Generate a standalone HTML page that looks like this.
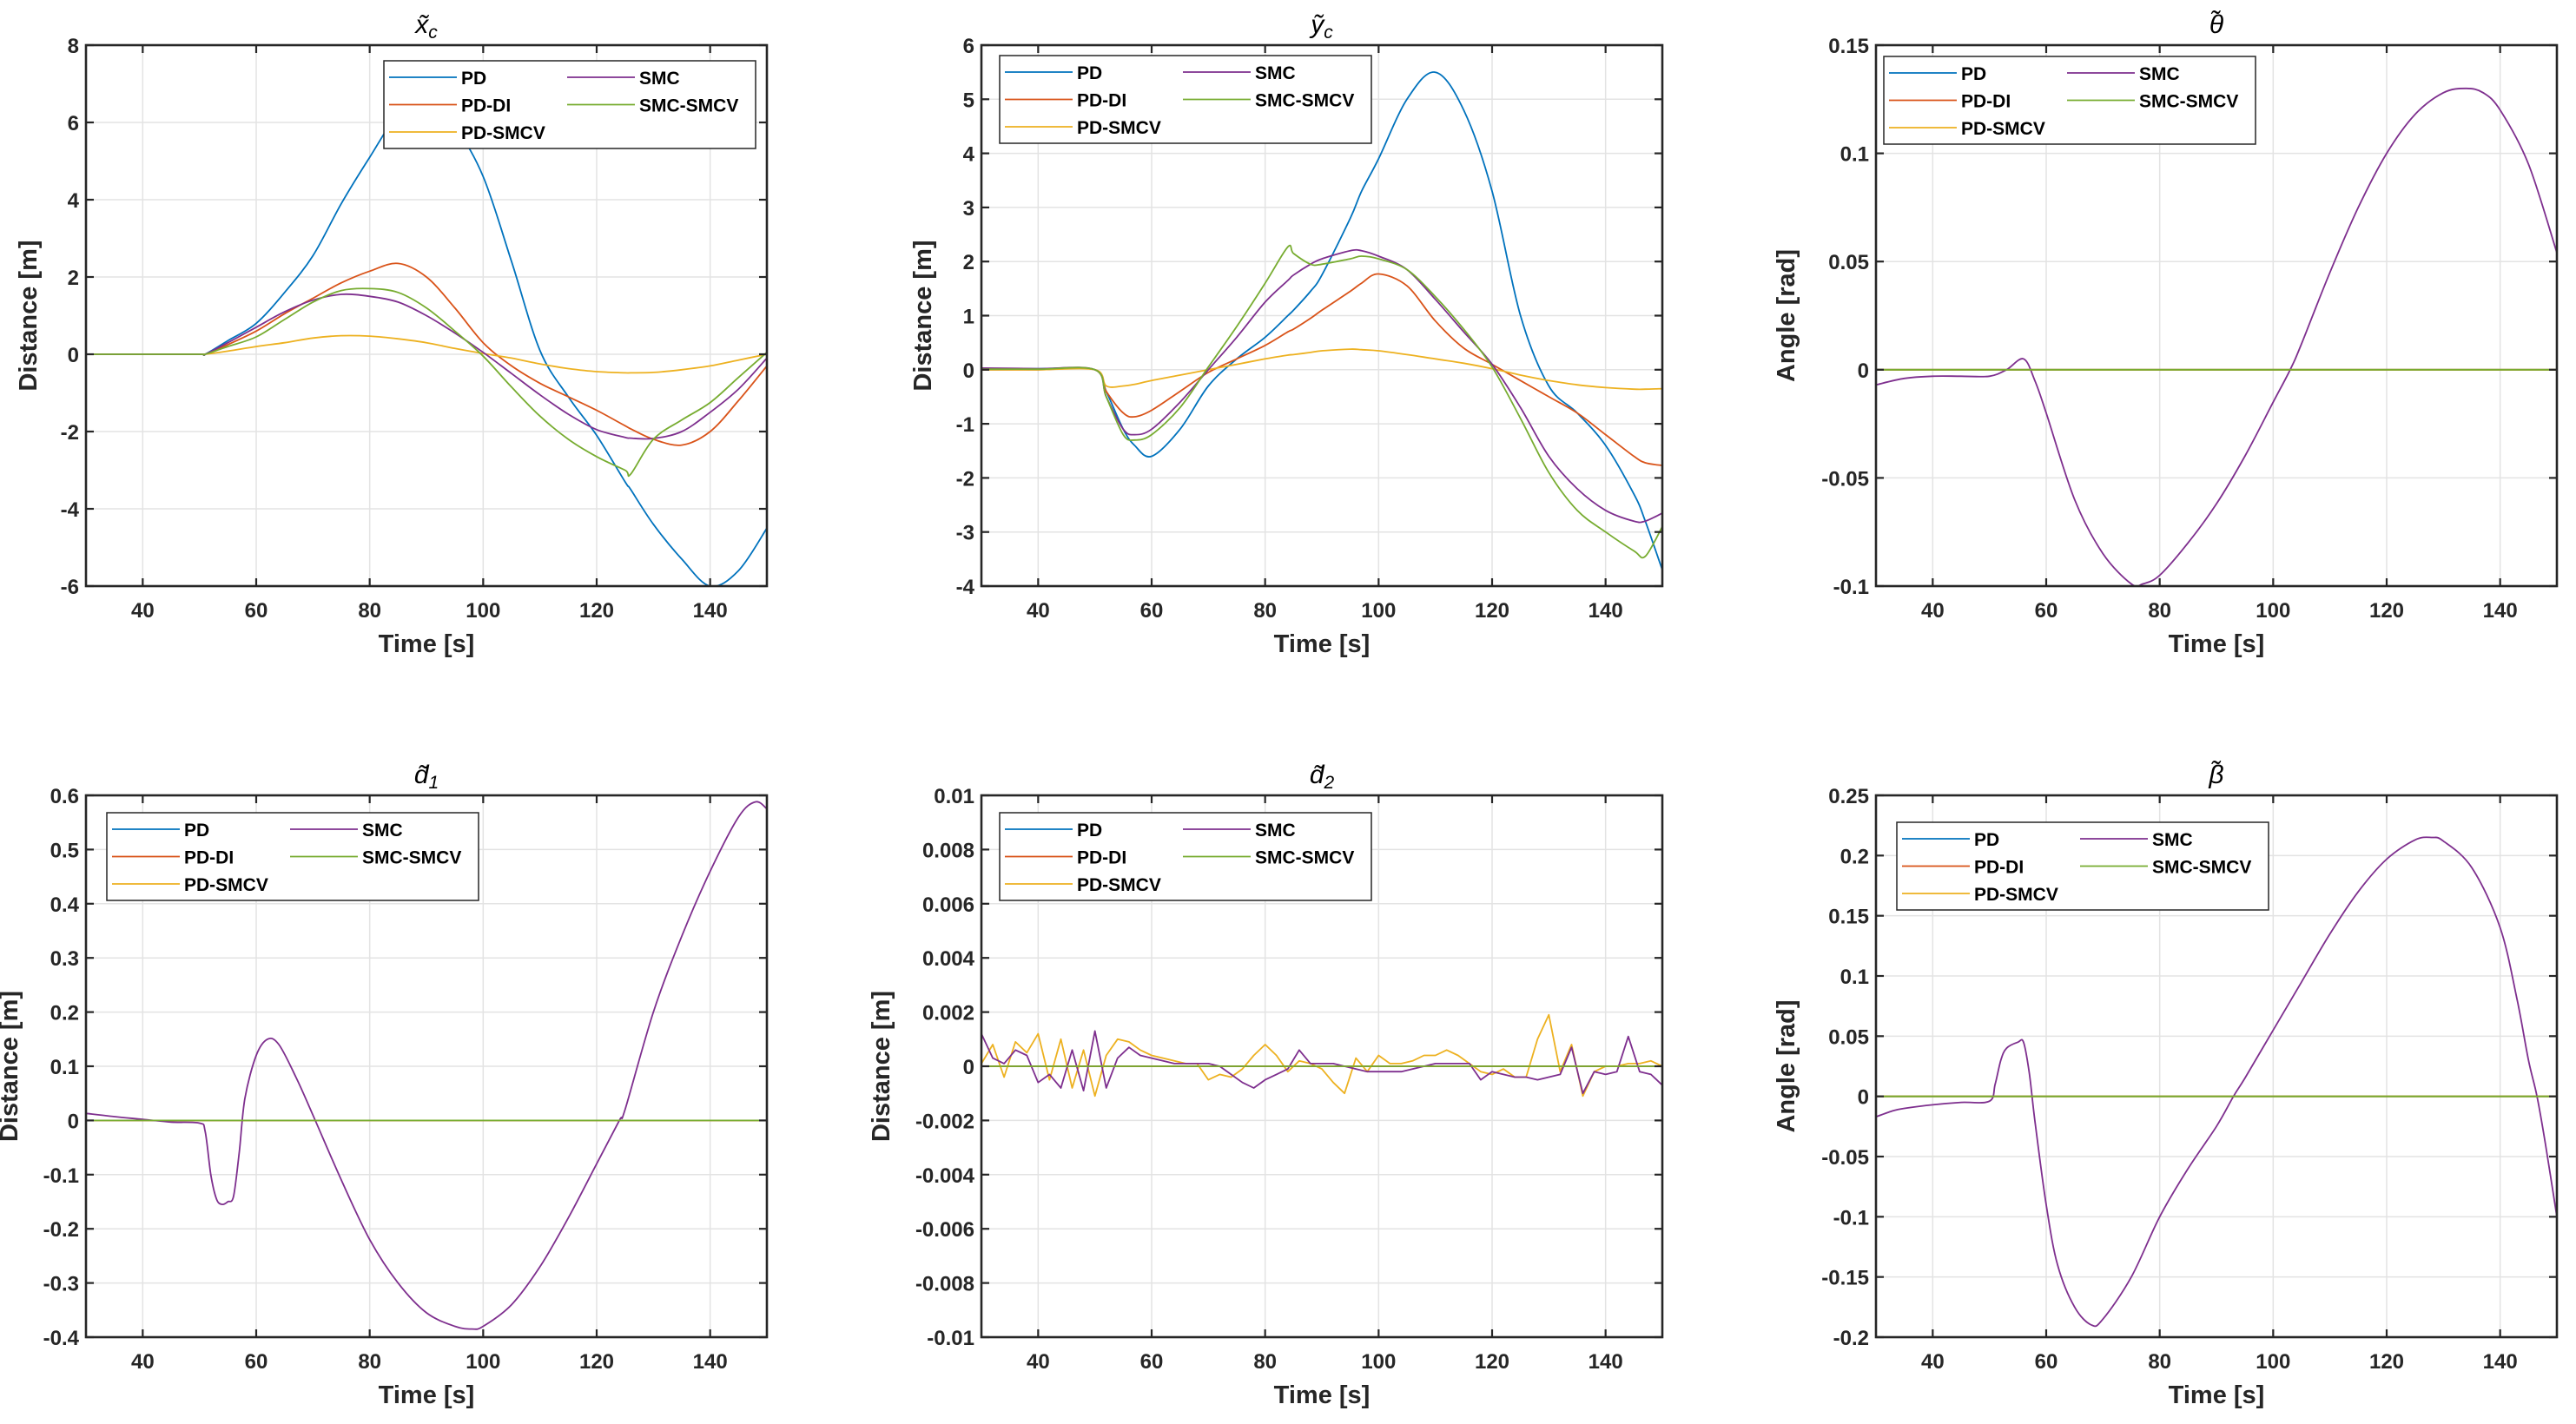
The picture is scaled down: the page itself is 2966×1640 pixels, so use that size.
<!DOCTYPE html>
<html><head><meta charset="utf-8"><style>
html,body{margin:0;padding:0;background:#fff;}
svg text{font-family:"Liberation Sans",Arial,sans-serif;}
</style></head><body>
<svg id="fig" xmlns="http://www.w3.org/2000/svg" width="2966" height="1635" viewBox="0 0 2966 1635"></svg>
<script>
// ---------- data ----------
const seriesNames = ["PD","PD-DI","PD-SMCV","SMC","SMC-SMCV"];
const seriesColors = ["#0072BD","#D95319","#EDB120","#7E2F8E","#77AC30"];
const xTicks = [40,60,80,100,120,140];

// x_c panel
const tXc = [30,40,50,51,55,60,65,70,75,80,85,90,95,100,105,110,115,120,125,126,130,135,140,145,150];
const xcPD    = [0,0,0,0,0.35,0.8,1.6,2.55,3.9,5.1,6.2,6.6,5.9,4.6,2.4,0.1,-1.1,-2.1,-3.3,-3.5,-4.4,-5.3,-6.0,-5.6,-4.5];
const xcPDDI  = [0,0,0,0,0.25,0.6,1.05,1.45,1.85,2.15,2.35,2.0,1.2,0.3,-0.3,-0.75,-1.1,-1.45,-1.85,-1.93,-2.2,-2.35,-2.0,-1.2,-0.3];
const xcPDSMCV= [0,0,0,0,0.08,0.2,0.3,0.42,0.48,0.47,0.4,0.3,0.15,0.02,-0.1,-0.25,-0.37,-0.45,-0.48,-0.48,-0.47,-0.4,-0.3,-0.15,0];
const xcSMC   = [0,0,0,0,0.3,0.7,1.1,1.4,1.55,1.5,1.35,1.0,0.55,0.05,-0.5,-1.05,-1.55,-1.95,-2.15,-2.17,-2.18,-2.0,-1.5,-0.9,-0.1];
const xcSMCSMCV=[0,0,0,0,0.2,0.45,0.9,1.35,1.65,1.7,1.6,1.2,0.6,-0.05,-0.85,-1.6,-2.2,-2.65,-3.0,-3.1,-2.2,-1.7,-1.25,-0.6,0.05];

// y_c panel
const tYc = [30,40,50,52,55,57,60,65,70,75,80,84,85,88,90,95,97,100,105,110,115,120,125,130,135,140,145,147,150];
const ycPD    = [0.02,0.02,0,-0.4,-1.1,-1.4,-1.6,-1.1,-0.3,0.2,0.6,1.0,1.1,1.45,1.75,2.8,3.3,3.9,5.0,5.5,4.8,3.3,1.0,-0.3,-0.8,-1.4,-2.3,-2.8,-3.7];
const ycPDDI  = [0,0,0,-0.4,-0.8,-0.87,-0.75,-0.4,-0.05,0.2,0.45,0.7,0.75,0.95,1.1,1.45,1.6,1.77,1.55,0.9,0.4,0.1,-0.2,-0.5,-0.8,-1.2,-1.6,-1.72,-1.77];
const ycPDSMCV= [0,0,0,-0.3,-0.3,-0.27,-0.2,-0.1,0,0.1,0.2,0.27,0.28,0.32,0.35,0.38,0.37,0.35,0.28,0.2,0.12,0.02,-0.1,-0.2,-0.28,-0.33,-0.36,-0.36,-0.35];
const ycSMC   = [0.03,0.02,0,-0.5,-1.1,-1.2,-1.1,-0.6,0,0.6,1.25,1.65,1.75,1.95,2.05,2.2,2.2,2.1,1.85,1.3,0.7,0.1,-0.7,-1.6,-2.2,-2.6,-2.8,-2.8,-2.65];
const ycSMCSMCV=[0.01,0.01,0,-0.5,-1.2,-1.3,-1.2,-0.7,0.05,0.8,1.6,2.27,2.15,1.95,1.95,2.05,2.1,2.05,1.85,1.35,0.75,0.05,-0.9,-1.9,-2.6,-3.0,-3.35,-3.45,-2.9];

// theta panel
const tTh = [30,35,40,45,50,53,56,58,60,65,70,75,77,80,85,90,95,100,103,105,110,115,120,125,130,134,137,140,145,150];
const thSMC = [-0.007,-0.004,-0.003,-0.003,-0.003,0.0,0.005,-0.005,-0.02,-0.06,-0.085,-0.099,-0.099,-0.095,-0.08,-0.062,-0.04,-0.015,0,0.012,0.045,0.075,0.1,0.118,0.128,0.13,0.128,0.12,0.095,0.054];
const thZero = [0,0,0,0,0,0,0,0,0,0,0,0,0,0,0,0,0,0,0,0,0,0,0,0,0,0,0,0,0,0];

// d1 panel
const tD1 = [30,35,40,45,50,51,52,53,54,55,56,57,58,60,62,64,67,70,75,80,85,90,95,98,100,105,110,115,120,124,125,130,135,140,145,148,150];
const d1SMC = [0.013,0.007,0.002,-0.003,-0.005,-0.02,-0.1,-0.145,-0.155,-0.15,-0.14,-0.06,0.04,0.12,0.15,0.14,0.08,0.01,-0.11,-0.22,-0.3,-0.355,-0.38,-0.385,-0.38,-0.34,-0.27,-0.18,-0.08,0,0.02,0.2,0.34,0.46,0.56,0.588,0.575];
const d1Zero = [0,0,0,0,0,0,0,0,0,0,0,0,0,0,0,0,0,0,0,0,0,0,0,0,0,0,0,0,0,0,0,0,0,0,0,0,0];

// d2 panel
const tD2 = [30,32,34,36,38,40,42,44,46,48,50,52,54,56,58,60,62,64,66,68,70,72,74,76,78,80,82,84,86,88,90,92,94,96,98,100,102,104,106,108,110,112,114,116,118,120,122,124,126,128,130,132,134,136,138,140,142,144,146,148,150];
const d2SMC = [0.0012,0.0003,0.0001,0.0006,0.0004,-0.0006,-0.0003,-0.0008,0.0006,-0.0009,0.0013,-0.0008,0.0003,0.0007,0.0004,0.0003,0.0002,0.0001,0.0001,0.0001,0.0001,0,-0.0003,-0.0006,-0.0008,-0.0005,-0.0003,-0.0001,0.0006,0.0001,0.0001,0.0001,0,-0.0001,-0.0002,-0.0002,-0.0002,-0.0002,-0.0001,0,0.0001,0.0001,0.0001,0.0001,-0.0005,-0.0002,-0.0003,-0.0004,-0.0004,-0.0005,-0.0004,-0.0003,0.0007,-0.001,-0.0002,-0.0003,-0.0002,0.0011,-0.0002,-0.0003,-0.0007];
const d2PDSMCV = [0.0001,0.0008,-0.0004,0.0009,0.0005,0.0012,-0.0005,0.0010,-0.0008,0.0006,-0.0011,0.0004,0.0010,0.0009,0.0006,0.0004,0.0003,0.0002,0.0001,0.0001,-0.0005,-0.0003,-0.0004,-0.0001,0.0004,0.0008,0.0004,-0.0002,0.0002,0.0001,-0.0001,-0.0006,-0.0010,0.0003,-0.0002,0.0004,0.0001,0.0001,0.0002,0.0004,0.0004,0.0006,0.0004,0.0001,-0.0002,-0.0003,-0.0001,-0.0004,-0.0004,0.0010,0.0019,-0.0002,0.0008,-0.0011,-0.0002,0,0,0.0001,0.0001,0.0002,0];
const d2Zero = new Array(61).fill(0);

// beta panel
const tBe = [30,33,35,40,45,50,51,52,53,55,56,57,58,60,62,65,68,70,75,80,85,90,93,95,100,105,110,115,120,125,128,130,135,140,143,145,146.5,148,150];
const beSMC = [-0.017,-0.012,-0.01,-0.007,-0.005,-0.004,0.01,0.03,0.04,0.045,0.045,0.02,-0.02,-0.09,-0.14,-0.175,-0.19,-0.185,-0.15,-0.1,-0.06,-0.025,0,0.015,0.055,0.095,0.135,0.17,0.197,0.213,0.215,0.212,0.19,0.14,0.08,0.03,0,-0.04,-0.1];
const beZero = new Array(39).fill(0);

// ---------- drawing ----------
const NS = "http://www.w3.org/2000/svg";
const svg = document.getElementById("fig");
function mk(tag, attrs, parent){
  const e = document.createElementNS(NS, tag);
  for (const k in attrs) e.setAttribute(k, attrs[k]);
  (parent||svg).appendChild(e);
  return e;
}
function smoothPath(pts, smooth){
  if(!smooth){ return "M"+pts.map(p=>p[0].toFixed(1)+","+p[1].toFixed(1)).join("L"); }
  let d = "M"+pts[0][0].toFixed(1)+","+pts[0][1].toFixed(1);
  for(let i=0;i<pts.length-1;i++){
    const p0=pts[Math.max(0,i-1)], p1=pts[i], p2=pts[i+1], p3=pts[Math.min(pts.length-1,i+2)];
    const c1=[p1[0]+(p2[0]-p0[0])/6, p1[1]+(p2[1]-p0[1])/6];
    const c2=[p2[0]-(p3[0]-p1[0])/6, p2[1]-(p3[1]-p1[1])/6];
    d += "C"+c1[0].toFixed(1)+","+c1[1].toFixed(1)+" "+c2[0].toFixed(1)+","+c2[1].toFixed(1)+" "+p2[0].toFixed(1)+","+p2[1].toFixed(1);
  }
  return d;
}

function panel(cfg){
  const g = mk("g",{});
  
  
  const L=cfg.x, T=cfg.y, W=784, H=cfg.h;
  const xs = v => L + (v-30)/120*W;
  const ys = v => T + (cfg.ymax - v)/(cfg.ymax-cfg.ymin)*H;
  mk("rect",{x:L,y:T,width:W,height:H,fill:"#fff"},g);
  // grid
  xTicks.forEach(v=>{
    const l = mk("line",{x1:xs(v),x2:xs(v),y1:T,y2:T+H,stroke:"#e3e3e3","stroke-width":1.5},g);
    
    
  });
  cfg.yTicks.forEach(v=>{
    const l = mk("line",{x1:L,x2:L+W,y1:ys(v),y2:ys(v),stroke:"#e3e3e3","stroke-width":1.5},g);
    
    
  });
  // series
  const clipId = "clip-"+cfg.name;
  const cp = mk("clipPath",{id:clipId},g);
  mk("rect",{x:L,y:T,width:W,height:H},cp);
  const sg = mk("g",{"clip-path":"url(#"+clipId+")"},g);
  cfg.series.forEach((s,i)=>{
    if(!s) return;
    const pts = cfg.t.map((tv,j)=>[xs(tv), ys(s[j])]);
    const p = mk("path",{d:smoothPath(pts,cfg.smooth),fill:"none",stroke:seriesColors[i],"stroke-width":1.8,"stroke-linejoin":"round"},sg);
    
    
  });
  // box
  mk("rect",{x:L,y:T,width:W,height:H,fill:"none",stroke:"#262626","stroke-width":2.6},g);
  // ticks
  xTicks.forEach(v=>{
    mk("line",{x1:xs(v),x2:xs(v),y1:T+H,y2:T+H-9,stroke:"#262626","stroke-width":2.2},g);
    mk("line",{x1:xs(v),x2:xs(v),y1:T,y2:T+9,stroke:"#262626","stroke-width":2.2},g);
    const tx = mk("text",{x:xs(v),y:T+H+36,"text-anchor":"middle","font-size":24,"font-weight":"bold",fill:"#262626"},g);
    tx.textContent = v;
    
    
  });
  cfg.yTicks.forEach((v,i)=>{
    mk("line",{x1:L,x2:L+9,y1:ys(v),y2:ys(v),stroke:"#262626","stroke-width":2.2},g);
    mk("line",{x1:L+W,x2:L+W-9,y1:ys(v),y2:ys(v),stroke:"#262626","stroke-width":2.2},g);
    const tx = mk("text",{x:L-8,y:ys(v)+9,"text-anchor":"end","font-size":24,"font-weight":"bold",fill:"#262626"},g);
    tx.textContent = cfg.yLabels[i];
    
    
  });
  // axis labels
  const xl = mk("text",{x:L+W/2,y:T+H+76,"text-anchor":"middle","font-size":29,"font-weight":"bold",fill:"#262626"},g);
  xl.textContent = "Time [s]";
  
  
  const yl = mk("text",{x:0,y:0,"text-anchor":"middle","font-size":29,"font-weight":"bold",fill:"#262626",transform:"translate("+(L-cfg.ylOff)+","+(T+H/2)+") rotate(-90)"},g);
  yl.textContent = cfg.ylabel;
  
  
  // title
  const tt = mk("text",{x:L+W/2,y:T-14,"text-anchor":"middle","font-size":30,"font-style":"italic",fill:"#000","font-family":"Liberation Serif, serif"},g);
  
  
  tt.appendChild(document.createTextNode(cfg.title[0]));
  if(cfg.title[1]){
    const sub = mk("tspan",{"font-size":21,dy:6},tt);
    sub.textContent = cfg.title[1];
  }
  // legend
  const lx=cfg.lx, ly=cfg.ly;
  const lg = mk("g",{},g);
  
  
  mk("rect",{x:lx,y:ly,width:428,height:101,fill:"#fff",stroke:"#262626","stroke-width":1.5},lg);
  const pos = [[0,0],[0,1],[0,2],[1,0],[1,1]];
  seriesNames.forEach((n,i)=>{
    const cx = pos[i][0] ? 211 : 6;
    const cy = ly + 19 + pos[i][1]*31.5;
    const e = mk("g",{},lg);
    
    
    mk("line",{x1:lx+cx,x2:lx+cx+78,y1:cy,y2:cy,stroke:seriesColors[i],"stroke-width":1.8},e);
    const t = mk("text",{x:lx+cx+83,y:cy+8,"font-size":21,"font-weight":"bold",fill:"#000"},e);
    t.textContent = n;
  });
}

const R1=52, H1=623, R2=916, H2=624;
panel({name:"xc",x:99,y:R1,h:H1,ymin:-6,ymax:8,yTicks:[-6,-4,-2,0,2,4,6,8],yLabels:["-6","-4","-2","0","2","4","6","8"],
  t:tXc,series:[xcPD,xcPDDI,xcPDSMCV,xcSMC,xcSMCSMCV],smooth:true,ylabel:"Distance [m]",ylOff:57,title:["x\u0303","c"],lx:442,ly:70});
panel({name:"yc",x:1130,y:R1,h:H1,ymin:-4,ymax:6,yTicks:[-4,-3,-2,-1,0,1,2,3,4,5,6],yLabels:["-4","-3","-2","-1","0","1","2","3","4","5","6"],
  t:tYc,series:[ycPD,ycPDDI,ycPDSMCV,ycSMC,ycSMCSMCV],smooth:true,ylabel:"Distance [m]",ylOff:58,title:["y\u0303","c"],lx:1151,ly:64});
panel({name:"theta",x:2160,y:R1,h:H1,ymin:-0.1,ymax:0.15,yTicks:[-0.1,-0.05,0,0.05,0.1,0.15],yLabels:["-0.1","-0.05","0","0.05","0.1","0.15"],
  t:tTh,series:[thZero,thZero,thZero,thSMC,thZero],smooth:true,ylabel:"Angle [rad]",ylOff:94,title:["\u03B8\u0303",""],lx:2169,ly:65});
panel({name:"d1",x:99,y:R2,h:H2,ymin:-0.4,ymax:0.6,yTicks:[-0.4,-0.3,-0.2,-0.1,0,0.1,0.2,0.3,0.4,0.5,0.6],yLabels:["-0.4","-0.3","-0.2","-0.1","0","0.1","0.2","0.3","0.4","0.5","0.6"],
  t:tD1,series:[d1Zero,d1Zero,d1Zero,d1SMC,d1Zero],smooth:true,ylabel:"Distance [m]",ylOff:79,title:["d\u0303","1"],lx:123,ly:936});
panel({name:"d2",x:1130,y:R2,h:H2,ymin:-0.01,ymax:0.01,yTicks:[-0.01,-0.008,-0.006,-0.004,-0.002,0,0.002,0.004,0.006,0.008,0.01],yLabels:["-0.01","-0.008","-0.006","-0.004","-0.002","0","0.002","0.004","0.006","0.008","0.01"],
  t:tD2,series:[d2Zero,d2Zero,d2PDSMCV,d2SMC,d2Zero],smooth:false,ylabel:"Distance [m]",ylOff:106,title:["d\u0303","2"],lx:1151,ly:936});
panel({name:"beta",x:2160,y:R2,h:H2,ymin:-0.2,ymax:0.25,yTicks:[-0.2,-0.15,-0.1,-0.05,0,0.05,0.1,0.15,0.2,0.25],yLabels:["-0.2","-0.15","-0.1","-0.05","0","0.05","0.1","0.15","0.2","0.25"],
  t:tBe,series:[beZero,beZero,beZero,beSMC,beZero],smooth:true,ylabel:"Angle [rad]",ylOff:94,title:["\u03B2\u0303",""],lx:2184,ly:947});
</script>
</body></html>
